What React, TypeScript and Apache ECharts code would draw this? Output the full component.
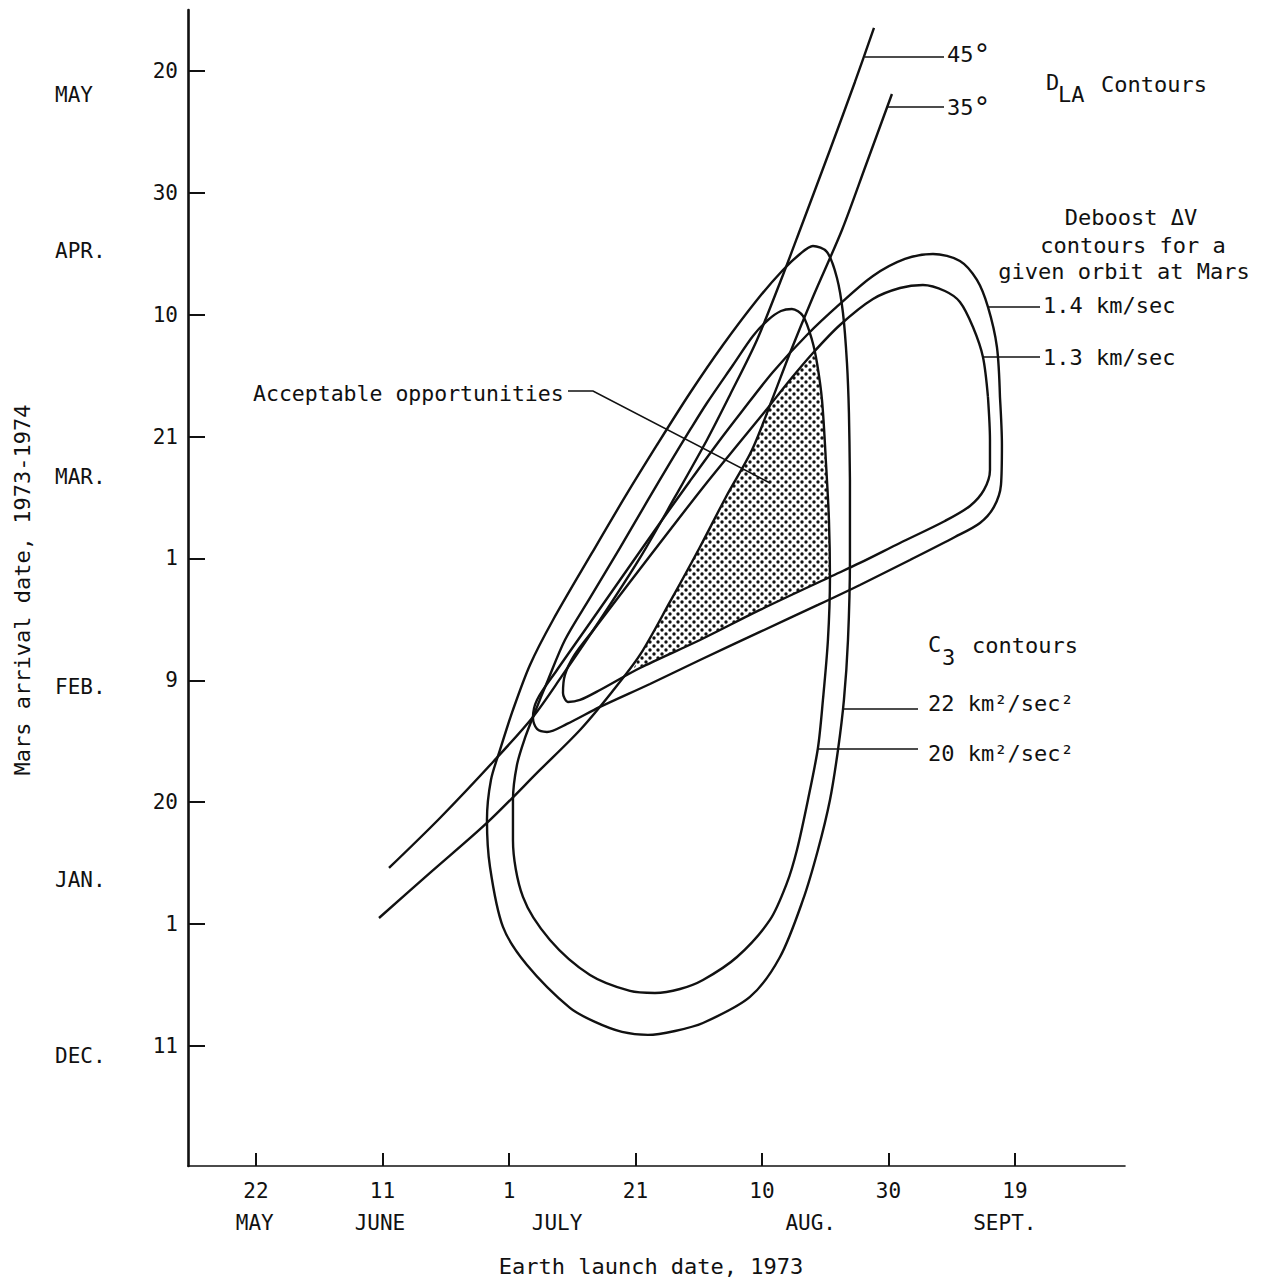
import React, { useEffect, useRef } from 'react';
import * as echarts from 'echarts';

// x: days after 22 May 1973 (Earth launch); y: days after 11 Dec 1973 (Mars arrival, as spaced on the chart)
const launchTickValues = [0, 20, 40, 60, 80, 100, 120];
const launchTickLabels = ['22', '11', '1', '21', '10', '30', '19'];
const launchMonthValues = [-0.2, 19.6, 47.6, 87.7, 118.4];
const launchMonths = ['MAY', 'JUNE', 'JULY', 'AUG.', 'SEPT.'];

const arrivalTickValues = [0, 20, 40, 60, 80, 100, 120, 140, 160];
const arrivalTickLabels = ['11', '1', '20', '9', '1', '21', '10', '30', '20'];
const arrivalMonthValues = [156.1, 130.5, 93.4, 58.9, 27.2, -1.6];
const arrivalMonths = ['MAY', 'APR.', 'MAR.', 'FEB.', 'JAN.', 'DEC.'];

// C3 contours (closed)
const c3_22 = [
  [93.91, 92.88], [93.91, 79.75], [93.6, 66.62], [92.96, 56.78], [92.02, 48.57], [90.75, 40.37],
  [88.85, 32.16], [86.48, 23.96], [82.85, 14.6], [78.1, 8.04], [70.67, 3.77], [66.25, 2.46],
  [61.98, 1.81], [57.87, 2.3], [53.6, 3.94], [49.64, 6.24], [42.85, 13.29], [39.05, 19.53],
  [37.0, 29.37], [36.52, 37.09], [37.15, 43.65], [38.58, 48.57], [40.63, 55.14], [43.32, 62.52],
  [46.96, 69.9], [53.12, 80.9], [58.34, 90.09], [63.4, 98.62], [68.62, 107.15], [73.83, 115.03],
  [79.21, 122.42], [83.32, 127.34], [86.01, 129.96], [88.06, 131.28], [90.28, 130.29], [91.86, 126.03],
  [92.81, 120.28], [93.44, 112.08], [93.75, 103.87]
];
const c3_20 = [
  [90.12, 95.67], [90.59, 86.31], [90.75, 76.8], [90.43, 66.62], [89.64, 56.78], [88.85, 48.9],
  [87.27, 40.37], [85.53, 32.16], [83.95, 26.75], [81.26, 20.68], [76.05, 14.6], [70.67, 10.83],
  [67.04, 9.35], [63.08, 8.7], [59.13, 9.03], [52.81, 11.65], [46.48, 17.39], [42.21, 24.45],
  [40.63, 33.8], [40.63, 40.37], [41.26, 46.11], [42.53, 50.54], [44.11, 54.81], [46.17, 60.06],
  [48.85, 66.62], [52.81, 73.52], [57.55, 81.72], [61.98, 89.6], [65.45, 95.67], [68.62, 101.08],
  [71.3, 105.51], [75.42, 111.75], [78.58, 116.51], [80.95, 119.13], [83.0, 120.61], [84.74, 120.94],
  [86.48, 119.79], [87.91, 115.85], [88.7, 112.08], [89.49, 106.01]
];

// Deboost dV contours (closed)
const dv14 = [
  [117.63, 106.5], [117.94, 98.62], [117.79, 92.06], [116.68, 88.45], [114.47, 85.82], [110.51, 83.52],
  [103.4, 79.75], [95.49, 75.65], [88.85, 72.37], [79.68, 67.94], [70.2, 63.34], [62.29, 59.4],
  [54.39, 55.63], [49.17, 52.84], [46.01, 51.53], [44.43, 52.02], [43.79, 53.82], [44.43, 56.78],
  [47.59, 61.7], [52.02, 68.26], [57.55, 76.47], [63.87, 85.82], [68.62, 92.71], [72.89, 98.79],
  [77.0, 104.36], [81.74, 110.6], [87.11, 116.67], [92.33, 121.76], [97.55, 126.35], [102.61, 129.14],
  [107.04, 129.96], [111.3, 128.82], [113.99, 125.7], [115.73, 121.27], [117.15, 114.7]
];
const dv13 = [
  [115.73, 106.5], [116.05, 99.44], [116.05, 94.52], [115.1, 91.24], [112.89, 88.61], [108.93, 86.15],
  [101.82, 82.54], [95.49, 79.26], [90.75, 76.96], [79.68, 71.55], [70.2, 66.62], [60.71, 62.03],
  [54.39, 58.42], [51.23, 56.78], [49.33, 56.45], [48.54, 57.93], [48.85, 60.88], [50.36, 64.16],
  [53.6, 68.59], [59.13, 76.14], [65.45, 84.67], [70.99, 92.06], [76.52, 99.11], [80.79, 104.53],
  [84.43, 109.29], [88.06, 113.72], [92.33, 118.31], [97.55, 122.58], [101.82, 124.38], [105.45, 124.88],
  [108.93, 123.89], [111.3, 122.09], [113.36, 117.98], [114.94, 113.06]
];

// D_LA contours (open)
const dla45 = [
  [21.03, 29.21], [29.09, 37.41], [37.47, 46.6], [43.79, 53.99], [48.38, 60.72], [54.39, 69.9],
  [60.71, 80.08], [66.25, 90.09], [71.3, 99.44], [74.94, 106.83], [79.21, 115.85], [83.32, 126.52],
  [86.01, 133.9], [90.75, 147.03], [94.7, 158.19], [97.71, 167.05]
];
const dla35 = [
  [19.45, 21.0], [27.51, 28.39], [36.68, 36.76], [44.9, 45.29], [51.23, 51.85], [56.28, 58.09],
  [60.71, 64.16], [65.45, 72.86], [70.2, 81.88], [74.31, 90.09], [78.42, 97.8], [81.58, 106.0],
  [84.43, 113.72], [88.06, 122.91], [92.65, 133.9], [96.44, 144.57], [100.55, 156.22]
];

// Acceptable opportunities region (shaded)
const acceptable = [
  [59.6, 61.7], [70.2, 66.62], [79.68, 71.55], [90.75, 76.96], [90.59, 86.31], [90.12, 95.67],
  [89.49, 106.01], [88.7, 112.08], [88.06, 113.72], [84.43, 109.29], [81.11, 104.9], [78.42, 97.8],
  [74.31, 90.09], [70.2, 81.88], [65.45, 72.86], [60.71, 64.16]
];

const FONT = 'DejaVu Sans Mono';
const INK = '#111';

const pick = (vals: number[], labels: string[]) => (v: number) => {
  let best = 0;
  for (let i = 1; i < vals.length; i++) {
    if (Math.abs(vals[i] - v) < Math.abs(vals[best] - v)) best = i;
  }
  return labels[best];
};

const closed = (arr: number[][]) => [...arr, arr[0]];

function txt(text: string, x: number, y: number, align = 'left', size = 22, rotation = 0, rich?: any) {
  return {
    type: 'text',
    x,
    y,
    rotation,
    silent: true,
    style: {
      text,
      fill: INK,
      fontFamily: FONT,
      fontSize: size,
      align,
      verticalAlign: 'middle',
      textAlign: align,
      textVerticalAlign: 'middle',
      ...(rich ? { rich } : {})
    }
  };
}

function seg(x1: number, y1: number, x2: number, y2: number) {
  return {
    type: 'line',
    silent: true,
    shape: { x1, y1, x2, y2 },
    style: { stroke: INK, lineWidth: 1.6 }
  };
}

export default function App() {
  const ref = useRef<HTMLDivElement>(null);

  useEffect(() => {
    if (!ref.current) return;
    const chart = echarts.init(ref.current, null, { renderer: 'svg' });

    const dot = document.createElement('canvas');
    dot.width = 8;
    dot.height = 8;
    const ctx = dot.getContext('2d');
    if (ctx) {
      ctx.fillStyle = INK;
      ctx.beginPath(); ctx.arc(2, 2, 1.7, 0, Math.PI * 2); ctx.fill();
      ctx.beginPath(); ctx.arc(6, 6, 1.7, 0, Math.PI * 2); ctx.fill();
    }
    const pattern: any = { image: dot, repeat: 'repeat', imageWidth: 8, imageHeight: 8 };

    const curve = (name: string, data: number[][]) => ({
      type: 'line',
      name,
      data,
      symbol: 'none',
      showSymbol: false,
      smooth: 0.3,
      silent: true,
      clip: false,
      lineStyle: { color: INK, width: 2.4 },
      z: 3
    });

    const labelStyle = { fontFamily: FONT, fontSize: 21, color: INK };
    const degRich = { d: { fontFamily: FONT, fontSize: 28, fill: INK, color: INK } };

    const option: any = {
      animation: false,
      backgroundColor: '#fff',
      grid: { left: 188, right: 143, top: 10, bottom: 115, containLabel: false, outerBoundsMode: 'none' },
      xAxis: [
        {
          type: 'value',
          position: 'bottom',
          min: -10.75,
          max: 137.4,
          splitLine: { show: false },
          axisLine: { show: true, onZero: false, lineStyle: { color: INK, width: 1.6 } },
          axisTick: { show: true, inside: true, length: 13, customValues: launchTickValues, lineStyle: { color: INK, width: 2 } },
          axisLabel: { ...labelStyle, margin: 14, customValues: launchTickValues, formatter: pick(launchTickValues, launchTickLabels) }
        },
        {
          type: 'value',
          position: 'bottom',
          min: -10.75,
          max: 137.4,
          splitLine: { show: false },
          axisLine: { show: false, onZero: false },
          axisTick: { show: false },
          axisLabel: { ...labelStyle, margin: 46, customValues: launchMonthValues, formatter: pick(launchMonthValues, launchMonths) }
        }
      ],
      yAxis: [
        {
          type: 'value',
          position: 'left',
          min: -19.7,
          max: 170,
          splitLine: { show: false },
          axisLine: { show: true, onZero: false, lineStyle: { color: INK, width: 2.6 } },
          axisTick: { show: true, inside: true, length: 17, customValues: arrivalTickValues, lineStyle: { color: INK, width: 2 } },
          axisLabel: { ...labelStyle, margin: 10, customValues: arrivalTickValues, formatter: pick(arrivalTickValues, arrivalTickLabels) }
        },
        {
          type: 'value',
          position: 'left',
          min: -19.7,
          max: 170,
          splitLine: { show: false },
          axisLine: { show: false, onZero: false },
          axisTick: { show: false },
          axisLabel: { ...labelStyle, align: 'left', margin: 133, customValues: arrivalMonthValues, formatter: pick(arrivalMonthValues, arrivalMonths) }
        }
      ],
      series: [
        {
          type: 'custom',
          name: 'Acceptable opportunities',
          coordinateSystem: 'cartesian2d',
          xAxisIndex: 0,
          yAxisIndex: 0,
          silent: true,
          z: 1,
          data: [acceptable[0]],
          renderItem: (_params: any, api: any) => {
            const pts = acceptable.map((p) => api.coord(p));
            return {
              type: 'polygon',
              shape: { points: pts },
              style: { fill: pattern, stroke: null }
            };
          }
        },
        curve('C3 22 km2/sec2', closed(c3_22)),
        curve('C3 20 km2/sec2', closed(c3_20)),
        curve('Deboost 1.4 km/sec', closed(dv14)),
        curve('Deboost 1.3 km/sec', closed(dv13)),
        curve('DLA 45°', dla45),
        curve('DLA 35°', dla35)
      ],
      graphic: [
        seg(865, 57, 944, 57),
        txt('45{d|°}', 947, 54, 'left', 22, 0, degRich),
        seg(888, 107, 944, 107),
        txt('35{d|°}', 947, 107, 'left', 22, 0, degRich),
        txt('D', 1046, 82),
        txt('LA', 1058, 94),
        txt('Contours', 1101, 84),
        txt('Deboost ΔV', 1131, 217, 'center'),
        txt('contours for a', 1133, 245, 'center'),
        txt('given orbit at Mars', 1124, 271, 'center'),
        seg(989, 307, 1040, 307),
        txt('1.4 km/sec', 1043, 305),
        seg(983, 357, 1040, 357),
        txt('1.3 km/sec', 1043, 357),
        txt('Acceptable opportunities', 253, 393, 'left', 21.5),
        {
          type: 'polyline',
          silent: true,
          shape: { points: [[568, 391], [593, 391], [770, 483]] },
          style: { stroke: INK, lineWidth: 1.6, fill: null }
        },
        txt('C', 928, 644),
        txt('3', 942, 657),
        txt('contours', 972, 645),
        seg(843, 709, 918, 709),
        txt('22 km²/sec²', 928, 703),
        seg(818, 749, 918, 749),
        txt('20 km²/sec²', 928, 753),
        txt('Earth launch date, 1973', 651, 1266, 'center'),
        txt('Mars arrival date, 1973-1974', 22, 590, 'center', 22, Math.PI / 2)
      ]
    };

    chart.setOption(option);
    return () => chart.dispose();
  }, []);

  return (
    <div
      ref={ref}
      style={{ position: 'absolute', left: 0, top: 0, width: 1268, height: 1281, background: '#fff' }}
    />
  );
}
